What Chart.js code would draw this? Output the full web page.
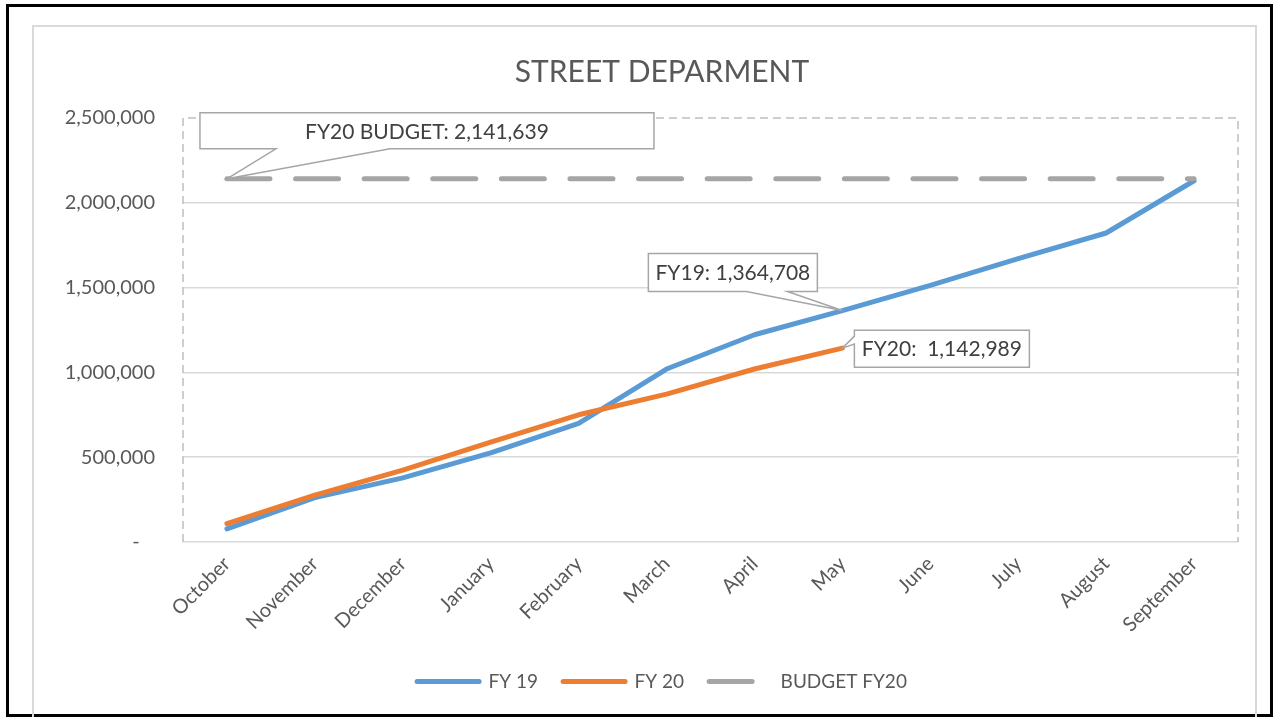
<!DOCTYPE html>
<html>
<head>
<meta charset="utf-8">
<title>Street Department</title>
<script src="https://cdn.jsdelivr.net/npm/chart.js@4/dist/chart.umd.min.js"></script>
<style>
  html, body { margin: 0; padding: 0; background: #fff; }
  body { width: 1276px; height: 717px; position: relative; overflow: hidden; }
  #frame { position: absolute; left: 6px; top: 4px; width: 1267px; height: 713px; border: 3px solid #000; box-sizing: border-box; }
  #inner { position: absolute; left: 32px; top: 25px; width: 1225px; height: 700px; border: 2px solid #d9d9d9; box-sizing: border-box; }
  #chart { position: absolute; left: 0; top: 0; }
</style>
</head>
<body>
<div id="frame"></div>
<div id="inner"></div>
<canvas id="chart" width="1300" height="717"></canvas>
<script>
// values
const months = ['October', 'November', 'December', 'January', 'February', 'March',
                'April', 'May', 'June', 'July', 'August', 'September'];
const fy19 = [77000, 262000, 378000, 525000, 700000, 1020000, 1222000, 1364708, 1513000, 1671000, 1822000, 2130000];
const fy20 = [108000, 276000, 424000, 589000, 750000, 872000, 1020000, 1142989];
const budgetFY20 = [2141639, 2141639, 2141639, 2141639, 2141639, 2141639,
                    2141639, 2141639, 2141639, 2141639, 2141639, 2141639];

const fmt = v => v.toLocaleString('en-US');
const FONT = 'Lato, "Open Sans", sans-serif';

// dashed frame round the plot area (left, top, right)
const plotFrame = {
    id: 'plotFrame',
    beforeDatasetsDraw(chart) {
        const { ctx, chartArea: a } = chart;
        ctx.save();
        ctx.strokeStyle = '#bfbfbf';
        ctx.lineWidth = 1.5;
        ctx.setLineDash([8, 5]);
        ctx.beginPath();
        ctx.moveTo(a.left, a.bottom);
        ctx.lineTo(a.left, a.top);
        ctx.lineTo(a.right, a.top);
        ctx.lineTo(a.right, a.bottom);
        ctx.stroke();
        ctx.restore();
    }
};

function callout(ctx, box, tip, tail, text) {
    ctx.beginPath();
    if (tail.edge === 'bottom') {
        ctx.moveTo(box.l, box.t);
        ctx.lineTo(box.r, box.t);
        ctx.lineTo(box.r, box.b);
        ctx.lineTo(tail.b, box.b);
        ctx.lineTo(tip.x, tip.y);
        ctx.lineTo(tail.a, box.b);
        ctx.lineTo(box.l, box.b);
    } else {
        ctx.moveTo(box.l, box.t);
        ctx.lineTo(box.r, box.t);
        ctx.lineTo(box.r, box.b);
        ctx.lineTo(box.l, box.b);
        ctx.lineTo(box.l, tail.b);
        ctx.lineTo(tip.x, tip.y);
        ctx.lineTo(box.l, tail.a);
    }
    ctx.closePath();
    ctx.fillStyle = '#fff';
    ctx.fill();
    ctx.strokeStyle = '#a6a6a6';
    ctx.lineWidth = 1.5;
    ctx.stroke();
    ctx.fillStyle = '#404040';
    ctx.font = '21px ' + FONT;
    ctx.textAlign = 'center';
    ctx.textBaseline = 'middle';
    ctx.fillText(text, (box.l + box.r) / 2, (box.t + box.b) / 2 + 1);
}

const callouts = {
    id: 'callouts',
    afterDatasetsDraw(chart) {
        const { ctx, scales: { x, y } } = chart;
        ctx.save();
        let p = { x: x.getPixelForValue(0), y: y.getPixelForValue(budgetFY20[0]) };
        callout(ctx, { l: p.x - 27, r: p.x + 427, t: p.y - 66, b: p.y - 30 }, p,
            { edge: 'bottom', a: p.x + 49, b: p.x + 163 }, 'FY20 BUDGET: ' + fmt(budgetFY20[0]));

        p = { x: x.getPixelForValue(7), y: y.getPixelForValue(fy19[7]) };
        callout(ctx, { l: p.x - 194, r: p.x - 25, t: p.y - 57, b: p.y - 19 }, p,
            { edge: 'bottom', a: p.x - 96, b: p.x - 55 }, 'FY19: ' + fmt(fy19[7]));

        p = { x: x.getPixelForValue(7), y: y.getPixelForValue(fy20[7]) };
        callout(ctx, { l: p.x + 12, r: p.x + 187, t: p.y - 18, b: p.y + 19 }, p,
            { edge: 'left', a: p.y - 12, b: p.y - 4 }, 'FY20:  ' + fmt(fy20[7]));
        ctx.restore();
    }
};

new Chart(document.getElementById('chart'), {
    type: 'line',
    data: {
        labels: months,
        datasets: [{
            label: 'FY 19',
            data: fy19,
            borderColor: '#5b9bd5',
            borderWidth: 5,
            order: 2
        }, {
            label: 'FY 20',
            data: fy20,
            borderColor: '#ed7d31',
            borderWidth: 5,
            order: 1
        }, {
            label: 'BUDGET FY20',
            data: budgetFY20,
            borderColor: '#a5a5a5',
            borderWidth: 5,
            borderDash: [43, 25.6],
            order: 0
        }]
    },
    options: {
        responsive: false,
        animation: false,
        events: [],
        elements: {
            point: { radius: 0 },
            line: { tension: 0, fill: false, borderCapStyle: 'round', borderJoinStyle: 'round' }
        },
        layout: { padding: { left: 32, right: 8, top: 25, bottom: 16 } },
        plugins: {
            title: {
                display: true,
                text: 'STREET DEPARMENT',
                color: '#595959',
                font: { family: FONT, size: 30, weight: 'normal' },
                padding: { top: 29, bottom: 28 }
            },
            legend: {
                position: 'bottom',
                labels: {
                    color: '#595959',
                    font: { family: FONT, size: 19 },
                    usePointStyle: true,
                    pointStyle: 'line',
                    pointStyleWidth: 62,
                    padding: 25,
                    generateLabels(chart) {
                        return chart.data.datasets.map((ds, i) => ({
                            text: ds.label,
                            datasetIndex: i,
                            strokeStyle: ds.borderColor,
                            fillStyle: ds.borderColor,
                            lineWidth: 5,
                            lineCap: 'round',
                            lineDash: ds.borderDash || [],
                            pointStyle: 'line',
                            fontColor: '#595959'
                        }));
                    }
                }
            },
            tooltip: { enabled: false }
        },
        scales: {
            x: {
                offset: true,
                grid: { display: false, offset: true },
                border: { display: false },
                ticks: {
                    color: '#595959',
                    font: { family: FONT, size: 20 },
                    minRotation: 45,
                    maxRotation: 45,
                    padding: 2
                },
                afterFit(scale) { scale.height = 105; }
            },
            y: {
                min: 0,
                max: 2500000,
                border: { display: false },
                grid: {
                    drawTicks: false,
                    color: ctx => ctx.tick && ctx.tick.value === 2500000 ? 'rgba(0,0,0,0)' : '#d9d9d9',
                    lineWidth: 1.5
                },
                ticks: {
                    stepSize: 500000,
                    padding: 28,
                    color: '#595959',
                    font: { family: FONT, size: 20 },
                    callback: v => v === 0 ? '-   ' : fmt(v)
                },
                afterFit(scale) { scale.width = 151; }
            },
            // empty spacer on the right so title and legend sit where the original has them
            spacer: {
                type: 'linear',
                position: 'right',
                grid: { display: false },
                border: { display: false },
                ticks: { display: false },
                afterFit(scale) { scale.width = 54; }
            }
        }
    },
    plugins: [plotFrame, callouts]
});
</script>
</body>
</html>
